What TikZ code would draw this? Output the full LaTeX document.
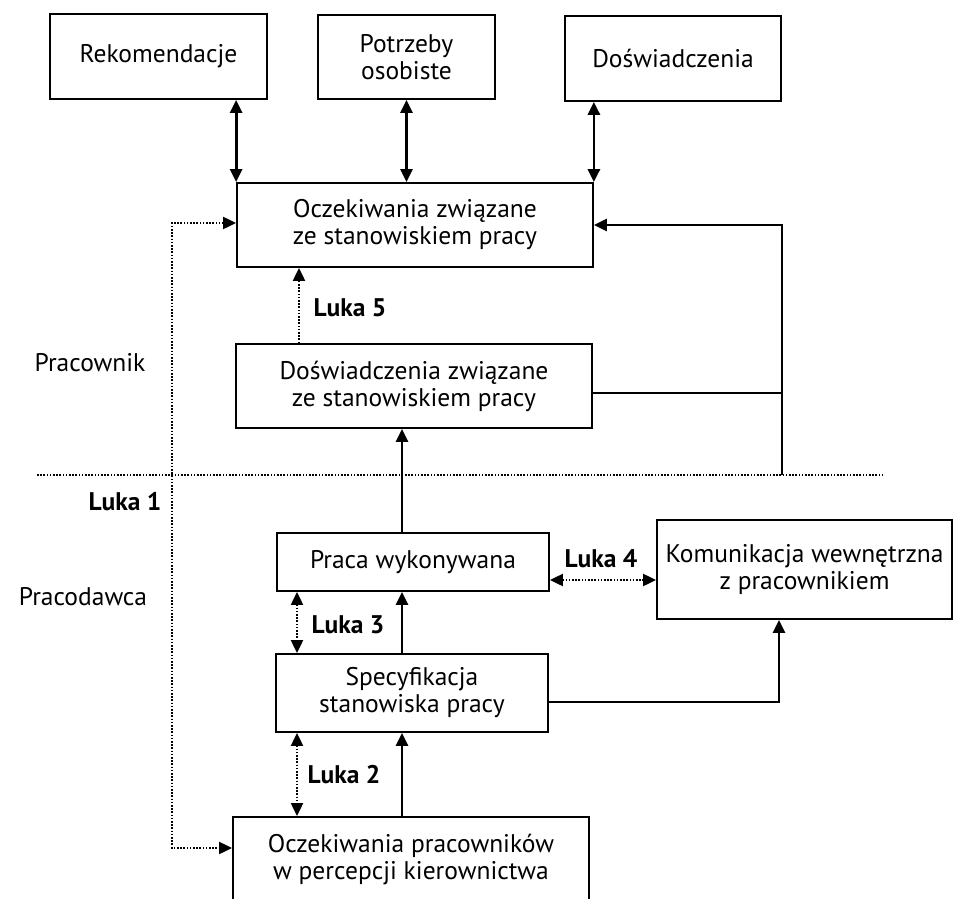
\documentclass[tikz,border=0pt]{standalone}
\usepackage{fontspec}
\setmainfont{PT Sans}
\usetikzlibrary{arrows.meta}

\tikzset{
  txt/.style={font=\fontsize{25.5}{27}\selectfont},
  box/.style={txt, draw, line width=1.8pt, rectangle, inner sep=0pt, align=center},
  lbl/.style={txt, inner sep=0pt},
  gap/.style={inner sep=0pt, font=\fontsize{25.5}{27}\selectfont\bfseries},
  tip/.tip={Triangle[length=13pt, width=12pt]},
  solidline/.style={line width=2.8pt},
  arr/.style={solidline, -tip},
  biarr/.style={solidline, tip-tip},
  dotline/.style={line width=2pt, dash pattern=on 1.6pt off 1.6pt},
  dotbiarr/.style={dotline, tip-tip},
  dotarr/.style={dotline, -tip},
}

\begin{document}
\begin{tikzpicture}[x=1pt, y=-1pt]
\useasboundingbox (0,0) rectangle (954,899);
\clip (0,0) rectangle (954,899);

% upper row: sources of expectations
\node[box, minimum width=217pt, minimum height=85pt] (rek) at (158.5,56.5) {Rekomendacje};
\node[box, minimum width=177pt, minimum height=84pt] (pot) at (406.5,57) {Potrzeby\\osobiste};
\node[box, minimum width=216pt, minimum height=85pt] (dos) at (673,58.5) {Doświadczenia};

% employee side
\node[box, minimum width=356pt, minimum height=84pt] (ocz) at (415,225) {Oczekiwania związane\\ze stanowiskiem pracy};
\node[box, minimum width=356pt, minimum height=84pt] (dzw) at (414,386) {Doświadczenia związane\\ze stanowiskiem pracy};

% employer side
\node[box, minimum width=272pt, minimum height=58pt] (praca) at (413,562) {Praca wykonywana};
\node[box, minimum width=272pt, minimum height=78pt] (spec) at (412,693) {Specyfikacja\\stanowiska pracy};
\node[box, minimum width=295pt, minimum height=99pt] (kom) at (804.5,569.5) {Komunikacja wewnętrzna\\z pracownikiem};
\node[box, minimum width=356pt, minimum height=86pt] (ocp) at (411,860) {Oczekiwania pracowników\\w percepcji kierownictwa};

% side labels
\node[lbl] (pracownik) at (90,363) {Pracownik};
\node[lbl] (pracodawca) at (83,597) {Pracodawca};

% gap labels
\node[gap] (luka1) at (125,502) {Luka 1};
\node[gap] (luka5) at (350,308) {Luka 5};
\node[gap] (luka4) at (601,559) {Luka 4};
\node[gap] (luka3) at (348,625) {Luka 3};
\node[gap] (luka2) at (344,775) {Luka 2};

% helper coordinates
\coordinate (sepL) at (37,475);
\coordinate (sepR) at (883,475);
\coordinate (fb) at (782,475);
\coordinate (mid) at (402,0);
\coordinate (gx) at (297,0);
\coordinate (l5) at (299,0);
\coordinate (l4) at (0,580);
\coordinate (kx) at (779,0);
\coordinate (l1a) at (172,223);
\coordinate (l1b) at (172,848);

% boundary between employee and employer
\draw[dotline] (sepL) -- (sepR);

% sources <-> expectations
\draw[biarr] (rek.south -| ocz.north west) -- (ocz.north west);
\draw[biarr] (pot.south) -- (pot.south |- ocz.north);
\draw[biarr] (dos.south -| ocz.north east) -- (ocz.north east);

% feedback on the right
\draw[solidline] ([yshift=-7pt]dzw.east) -- ([yshift=-7pt]dzw.east -| fb);
\draw[arr] (fb) -- (fb |- ocz.east) -- (ocz.east);

% main vertical flow
\draw[arr] (praca.north -| mid) -- (dzw.south -| mid);
\draw[arr] (spec.north -| mid) -- (praca.south -| mid);
\draw[arr] (ocp.north -| mid) -- (spec.south -| mid);
\draw[arr] ([yshift=-9pt]spec.east) -| (kom.south -| kx);

% gaps
\draw[dotarr] (dzw.north -| l5) -- (ocz.south -| l5);
\draw[dotbiarr] (praca.south -| gx) -- (spec.north -| gx);
\draw[dotbiarr] (spec.south -| gx) -- (ocp.north -| gx);
\draw[dotbiarr] (praca.east |- l4) -- (kom.west |- l4);
\draw[dotbiarr] (ocz.west |- l1a) -- (l1a) -- (l1b) -- (ocp.west |- l1b);
\end{tikzpicture}
\end{document}
